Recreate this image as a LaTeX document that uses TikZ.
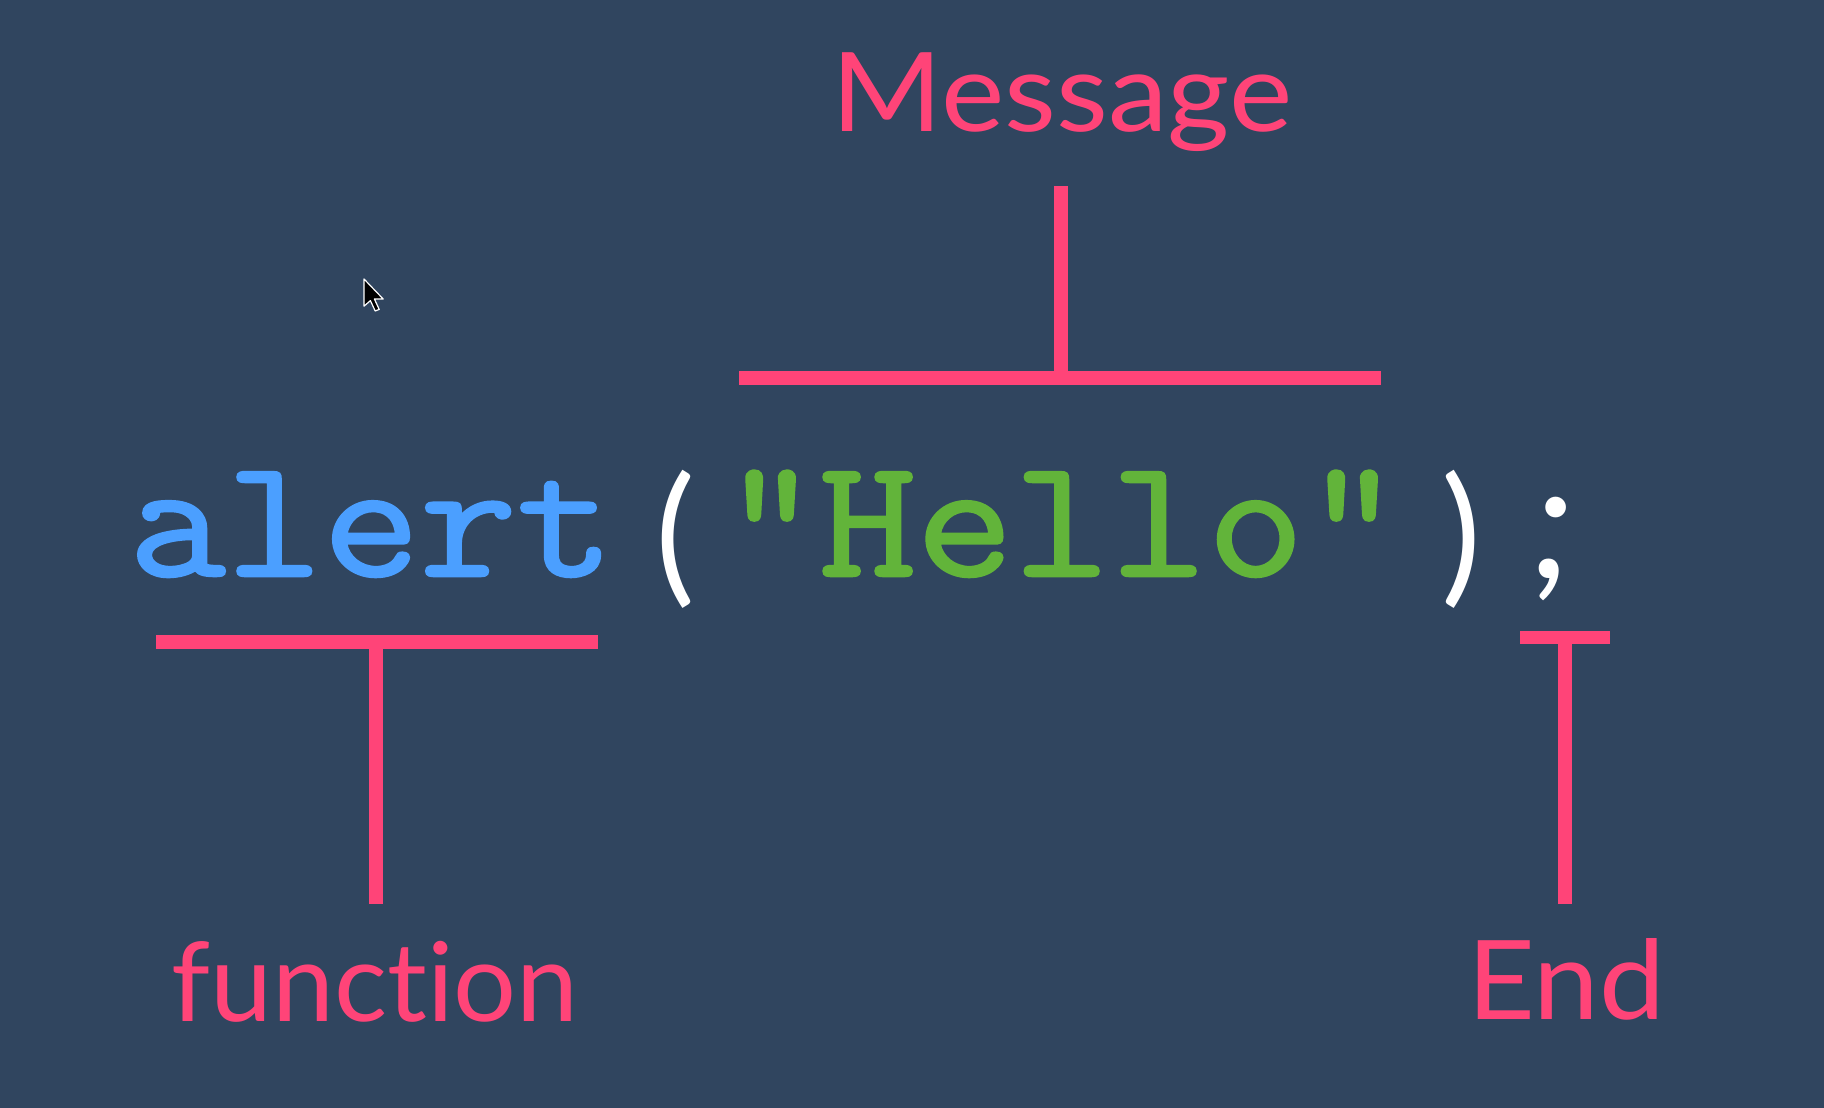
\documentclass[tikz,border=0pt]{standalone}
\usepackage{fontspec}
\usepackage{graphicx}
\setmainfont{Lato}[Ligatures=NoCommon]
\newfontfamily\codefont{Latin Modern Mono}[FakeBold=1.5]
\newfontfamily\punctfont{Lato}
\definecolor{bg}{HTML}{30455F}
\definecolor{pinkc}{HTML}{FF4478}
\definecolor{bluec}{HTML}{4B9FFF}
\definecolor{greenc}{HTML}{62B43A}
\tikzset{
  label/.style={text=pinkc, inner sep=0pt, anchor=base, font=\fontsize{110}{120}\selectfont},
  code/.style={inner sep=0pt, anchor=base west, font=\codefont\fontsize{170}{180}\selectfont},
  punct/.style={inner sep=0pt, anchor=base, text=white, font=\punctfont\fontsize{150}{155}\selectfont},
  bar/.style={draw=pinkc, line width=14pt, line cap=butt},
}
\newcommand{\cs}[1]{\scalebox{1.108}[1]{#1}}
\begin{document}
\begin{tikzpicture}[x=1pt,y=-1pt]
\path[fill=bg,use as bounding box] (0,0) rectangle (1824,1108);
% labels
\node[label] (msg) at (1062,131) {\scalebox{1.09}[1]{Message}};
\node[label] (fun) at (375,1021) {\scalebox{1.01}[1]{function}};
\node[label] (end) at (1566,1019) {\scalebox{1.07}[1]{End}};
% code
\node[code, text=bluec] (alert) at (128.6,576) {\cs{alert}};
\node[punct] (lpar) at (676,586) {(};
\node[code, text=greenc] (hello) at (722,576) {\cs{"Hello"}};
\node[punct] (rpar) at (1462,586) {)};
\node[punct, font=\punctfont\itshape\fontsize{165}{170}\selectfont] (semi) at (1554,578) {;};
% top bracket
\coordinate (mtop) at (1061,186);
\coordinate (mbl) at (739,378);
\coordinate (mbr) at (1381,378);
\draw[bar] (mbl) -- (mbr);
\draw[bar] (mtop) -- (mtop |- mbl);
% function bracket
\coordinate (fbl) at (156,642);
\coordinate (fbr) at (598,642);
\coordinate (fbot) at (376,904);
\draw[bar] (fbl) -- (fbr);
\draw[bar] (fbot |- fbl) -- (fbot);
% end bracket
\coordinate (ebl) at (1520,637);
\coordinate (ebr) at (1610,637);
\coordinate (ebot) at (1565,904);
\draw[bar, line width=13pt] (ebl) -- (ebr);
\draw[bar] (ebot |- ebl) -- (ebot);
% mouse cursor
\begin{scope}[shift={(364,279)}, scale=1.6]
\fill[black, draw=white, line width=1.2pt, line join=round]
  (0,0) -- (0,17) -- (4,13.5) -- (7,20) -- (9.5,19) -- (6.5,12.5) -- (12,12.5) -- cycle;
\end{scope}
\end{tikzpicture}
\end{document}
